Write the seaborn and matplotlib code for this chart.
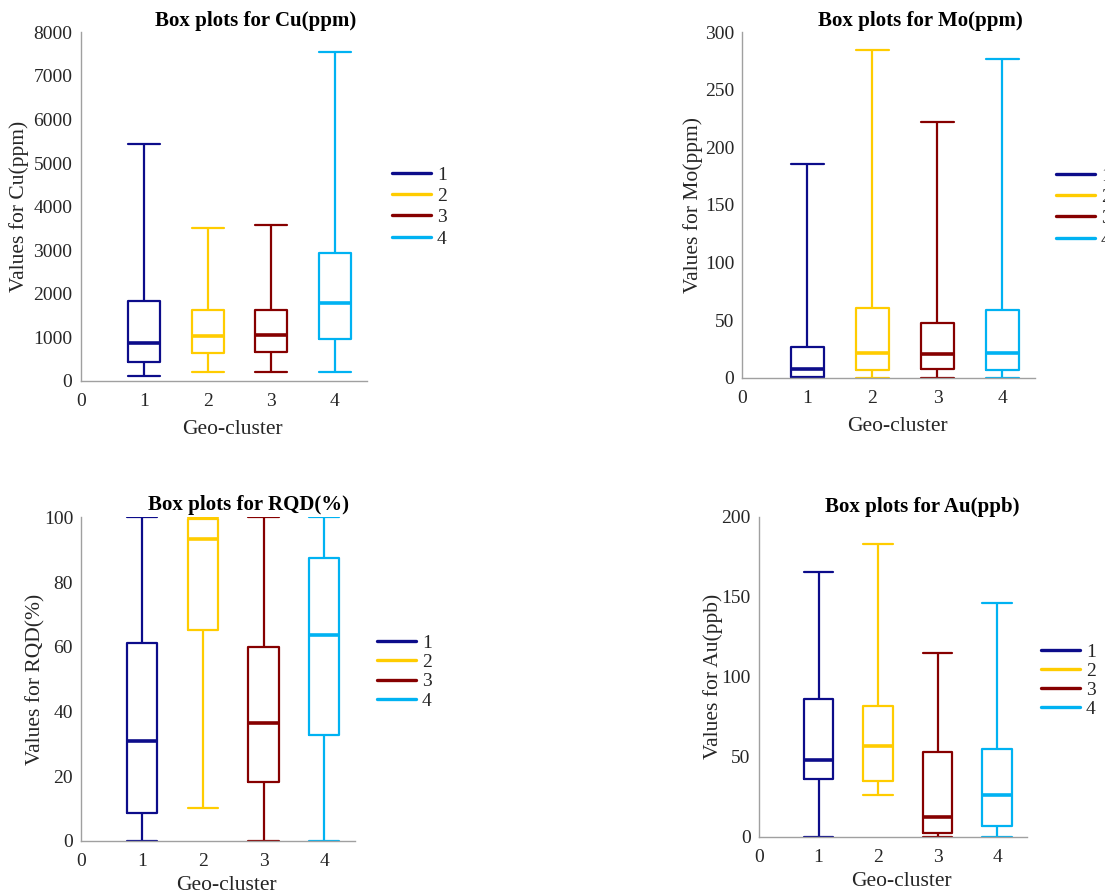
import matplotlib
matplotlib.use("Agg")
import matplotlib.pyplot as plt
from matplotlib.lines import Line2D
import pandas as pd
import seaborn as sns

# Geo-clusters and their colours
clusters = [1, 2, 3, 4]
cluster_colors = ["#0c0c8a", "#ffcc00", "#860000", "#00b2f2"]

# Five-number summaries per cluster: [min, Q1, median, Q3, max]
cu_ppm = [
    [115, 436, 880, 1844, 5440],
    [207, 635, 1040, 1630, 3510],
    [207, 666, 1063, 1630, 3580],
    [199, 956, 1782, 2930, 7540],
]
mo_ppm = [
    [0, 1, 7.8, 26.9, 185.6],
    [0, 6.4, 21.7, 60.5, 284.7],
    [0, 7.2, 20.3, 47.5, 222],
    [0, 6.4, 21.1, 58.8, 277],
]
rqd_pct = [
    [0, 8.5, 30.9, 61.0, 100],
    [10.1, 65.1, 93.2, 99.5, 100],
    [0, 18.3, 36.5, 59.8, 100],
    [0, 32.8, 63.6, 87.5, 100],
]
au_ppb = [
    [0, 36.2, 47.7, 85.8, 165.4],
    [25.8, 35.0, 56.9, 81.7, 183.1],
    [0, 2.5, 12.1, 52.9, 115],
    [0, 6.7, 26.2, 55.0, 145.8],
]

panels = [
    ("Cu(ppm)", cu_ppm, list(range(0, 8001, 1000))),
    ("Mo(ppm)", mo_ppm, list(range(0, 301, 50))),
    ("RQD(%)", rqd_pct, list(range(0, 101, 20))),
    ("Au(ppb)", au_ppb, list(range(0, 201, 50))),
]

# axes rectangles [left, bottom, width, height] in figure fractions
axes_rects = [
    [0.0730, 0.5748, 0.2589, 0.3892],
    [0.6719, 0.5785, 0.2647, 0.3855],
    [0.0737, 0.0617, 0.2472, 0.3609],
    [0.6869, 0.0662, 0.2424, 0.3571],
]
title_offsets = [0.031, 0.032, 0.039, 0.031]
ylabel_x = [-0.214, -0.169, -0.167, -0.172]
legend_anchor_px = [(392, 166), (1056, 167), (377, 634), (1041, 643)]
legend_spacing = [0.19, 0.19, 0.09, 0.08]

sns.set_style("white")
plt.rcParams["font.family"] = ["Liberation Serif", "DejaVu Serif"]
plt.rcParams["font.size"] = 14

axis_gray = "#a0a0a0"
text_col = "#262626"

W, H = 1105, 896
fig = plt.figure(figsize=(W / 100, H / 100), dpi=100)

palette = {str(c): col for c, col in zip(clusters, cluster_colors)}

for i, (name, summary, yticks) in enumerate(panels):
    ax = fig.add_axes(axes_rects[i])
    rows = []
    for c, stats in zip(clusters, summary):
        for v in stats:
            rows.append({"cluster": c, "group": str(c), "value": v})
    df = pd.DataFrame(rows)

    sns.boxplot(
        data=df, x="cluster", y="value", hue="group", palette=palette,
        native_scale=True, fill=False, whis=(0, 100), width=0.5,
        capwidths=0.5, linewidth=1.6, legend=False, ax=ax,
        medianprops=dict(linewidth=2.6),
    )

    ax.set_xlim(0, 4.5)
    ax.set_ylim(yticks[0], yticks[-1])
    ax.set_xticks([0] + clusters)
    ax.set_xticklabels([str(t) for t in [0] + clusters])
    ax.set_yticks(yticks)
    ax.set_yticklabels([str(t) for t in yticks])

    for side in ("top", "right"):
        ax.spines[side].set_visible(False)
    for side in ("left", "bottom"):
        ax.spines[side].set_color(axis_gray)
        ax.spines[side].set_linewidth(1.0)
    ax.tick_params(axis="both", direction="in", length=3, width=0.8,
                   color=axis_gray, labelcolor=text_col, labelsize=14)
    ax.tick_params(axis="x", pad=9)
    ax.tick_params(axis="y", pad=6)

    ax.set_xlabel("Geo-cluster", fontsize=15.5, color=text_col)
    ax.xaxis.label.set_va("center")
    ax.xaxis.set_label_coords(0.53, -0.14)
    ax.set_ylabel(f"Values for {name}", fontsize=15.5, color=text_col)
    ax.yaxis.label.set_va("center")
    ax.yaxis.set_label_coords(ylabel_x[i], 0.5)

    ax.text(0.61, 1 + title_offsets[i], f"Box plots for {name}",
            transform=ax.transAxes, ha="center", va="center",
            fontsize=15, fontweight="bold", color="black")

    handles = [Line2D([], [], color=col, linewidth=2.4) for col in cluster_colors]
    lx, ly = legend_anchor_px[i]
    fig.legend(handles, [str(c) for c in clusters], loc="upper left",
               bbox_to_anchor=(lx / W, 1 - ly / H), bbox_transform=fig.transFigure,
               frameon=False, fontsize=14, handlelength=2.0, handletextpad=0.3,
               labelspacing=legend_spacing[i], borderpad=0, borderaxespad=0,
               labelcolor=text_col)

fig.savefig("out.png", dpi=100, facecolor="white")
